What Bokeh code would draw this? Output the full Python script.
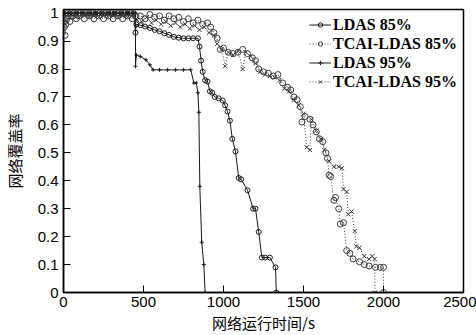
from bokeh.plotting import figure
from bokeh.models import Range1d, FixedTicker, Legend, LegendItem
from bokeh.embed import file_html
from bokeh.resources import INLINE

# ---------------- data ----------------
x_ticks = [0, 500, 1000, 1500, 2000, 2500]
y_ticks = [0, 0.1, 0.2, 0.3, 0.4, 0.5, 0.6, 0.7, 0.8, 0.9, 1]

series_names = ["LDAS 85%", "TCAI-LDAS 85%", "LDAS 95%", "TCAI-LDAS 95%"]

ldas85_x = [0, 20, 40, 60, 80, 100, 120, 140, 160, 180,
            200, 220, 240, 260, 280, 300, 320, 340, 360, 380,
            400, 420, 440,
            450, 455, 480, 510, 540, 570, 600, 630, 660, 690, 720, 750, 780, 810, 840,
            850, 860, 870, 885, 900, 915, 930, 945, 970, 995,
            1010, 1025, 1040, 1055, 1075, 1095, 1110, 1150, 1185, 1200,
            1220, 1240, 1260, 1290, 1325, 1330]
ldas85_y = [1.0, 1.0, 1.0, 1.0, 1.0, 1.0, 1.0, 1.0, 1.0, 1.0,
            1.0, 1.0, 1.0, 1.0, 1.0, 1.0, 1.0, 1.0, 1.0, 1.0,
            1.0, 1.0, 1.0,
            0.93, 0.96, 0.957, 0.952, 0.947, 0.94, 0.935, 0.928, 0.922, 0.915, 0.912, 0.91, 0.91, 0.91, 0.91,
            0.88, 0.83, 0.79, 0.76, 0.755, 0.72, 0.715, 0.70, 0.695, 0.687,
            0.67, 0.648, 0.615, 0.55, 0.505, 0.41, 0.405, 0.366, 0.30, 0.30,
            0.217, 0.125, 0.125, 0.125, 0.09, 0.0]

tcai85_x = [0, 5, 10, 15, 20, 30, 40, 60, 80, 100,
            130, 160, 190, 220, 250, 280, 310, 340, 370, 400,
            430, 450, 480, 510, 540, 570, 600, 630, 660, 690,
            720, 750, 780, 810, 840, 870, 900, 920, 940, 960,
            980, 1000, 1030, 1060, 1090, 1120, 1150, 1180, 1200, 1220,
            1250, 1280, 1310, 1340, 1370, 1400, 1420, 1440, 1460, 1480,
            1490, 1510, 1540, 1560, 1580, 1600, 1620, 1640, 1650, 1660,
            1670, 1690, 1700, 1720, 1730, 1750, 1770, 1790, 1810, 1850,
            1880, 1910, 1950, 1980, 2000, 2000]
tcai85_y = [0.97, 0.95, 0.92, 0.96, 0.98, 0.99, 0.97, 0.99, 0.98, 0.99,
            0.98, 0.99, 0.98, 0.99, 0.98, 0.99, 0.98, 0.99, 0.98, 0.99,
            0.98, 0.99, 0.99, 0.98, 0.995, 0.985, 0.99, 0.975, 0.99, 0.98,
            0.985, 0.97, 0.98, 0.965, 0.975, 0.96, 0.965, 0.95, 0.93, 0.91,
            0.87, 0.875, 0.86, 0.855, 0.86, 0.87, 0.855, 0.84, 0.83, 0.80,
            0.79, 0.785, 0.775, 0.78, 0.75, 0.735, 0.725, 0.70, 0.69, 0.665,
            0.61, 0.63, 0.62, 0.60, 0.575, 0.55, 0.54, 0.50, 0.48, 0.42,
            0.415, 0.33, 0.34, 0.30, 0.245, 0.25, 0.15, 0.14, 0.12, 0.11,
            0.10, 0.095, 0.09, 0.09, 0.09, 0.0]

ldas95_x = [0, 40, 80, 120, 160, 200, 240, 280, 320, 360,
            400, 440, 450, 450, 455, 480, 515, 540, 560, 600,
            650, 700, 750, 795, 815, 830, 840, 846, 852, 864,
            877, 885]
ldas95_y = [1.0, 1.0, 1.0, 1.0, 1.0, 1.0, 1.0, 1.0, 1.0, 1.0,
            1.0, 1.0, 1.0, 0.81, 0.85, 0.845, 0.833, 0.815, 0.797, 0.797,
            0.797, 0.797, 0.797, 0.797, 0.75, 0.75, 0.715, 0.645, 0.38, 0.18,
            0.10, 0.0]

tcai95_x = [0, 10, 20, 40, 70, 100, 130, 160, 190, 220,
            250, 280, 310, 340, 370, 400, 440, 460, 490, 520,
            550, 580, 610, 640, 670, 700, 730, 760, 790, 820,
            850, 880, 910, 940, 960, 990, 1010, 1030, 1060, 1090,
            1120, 1140, 1170, 1200, 1230, 1260, 1290, 1320, 1350, 1380,
            1410, 1440, 1470, 1500, 1520, 1540, 1550, 1580, 1610, 1630,
            1660, 1690, 1720, 1740, 1750, 1770, 1780, 1800, 1820, 1830,
            1850, 1880, 1910, 1930, 1945, 1947]
tcai95_y = [0.98, 0.96, 0.99, 0.985, 0.99, 0.985, 0.99, 0.985, 0.99, 0.985,
            0.99, 0.985, 0.99, 0.985, 0.99, 0.985, 0.99, 0.975, 0.97, 0.985,
            0.965, 0.975, 0.96, 0.97, 0.955, 0.965, 0.95, 0.96, 0.945, 0.955,
            0.94, 0.95, 0.93, 0.92, 0.89, 0.87, 0.81, 0.86, 0.85, 0.865,
            0.80, 0.86, 0.845, 0.82, 0.79, 0.78, 0.775, 0.77, 0.76, 0.73,
            0.72, 0.69, 0.67, 0.64, 0.52, 0.51, 0.62, 0.58, 0.55, 0.51,
            0.47, 0.45, 0.45, 0.445, 0.37, 0.36, 0.28, 0.29, 0.22, 0.165,
            0.16, 0.13, 0.12, 0.13, 0.12, 0.0]

# ---------------- figure ----------------
p = figure(width=476, height=335, output_backend="svg", toolbar_location=None,
           x_range=Range1d(0, 2500), y_range=Range1d(0, 1.013),
           min_border_left=62, min_border_right=13, min_border_top=9, min_border_bottom=41,
           background_fill_color="white", border_fill_color="white")
p.grid.visible = False
p.outline_line_color = "black"
p.outline_line_width = 1.5

solid_col = "#1a1a1a"
dot_col = "#3c3c3c"

items = []
r1 = p.line(ldas85_x, ldas85_y, line_color=solid_col, line_width=1)
m1 = p.scatter(ldas85_x, ldas85_y, marker="circle", size=5, fill_color=None,
               line_color=solid_col, line_width=1)
items.append(LegendItem(label=series_names[0], renderers=[r1, m1]))

r2 = p.line(tcai85_x, tcai85_y, line_color=dot_col, line_width=1, line_dash="1 2")
m2 = p.scatter(tcai85_x, tcai85_y, marker="circle", size=6, fill_color=None,
               line_color=dot_col, line_width=1)
items.append(LegendItem(label=series_names[1], renderers=[r2, m2]))

r3 = p.line(ldas95_x, ldas95_y, line_color=solid_col, line_width=1)
m3 = p.scatter(ldas95_x, ldas95_y, marker="cross", size=4,
               line_color=solid_col, line_width=1)
items.append(LegendItem(label=series_names[2], renderers=[r3, m3]))

r4 = p.line(tcai95_x, tcai95_y, line_color=dot_col, line_width=1, line_dash="1 2")
m4 = p.scatter(tcai95_x, tcai95_y, marker="x", size=6,
               line_color=dot_col, line_width=1)
items.append(LegendItem(label=series_names[3], renderers=[r4, m4]))

legend = Legend(items=items, location="top_right", margin=0, padding=6,
                spacing=0, label_height=19, glyph_height=11, glyph_width=22,
                label_standoff=2, border_line_alpha=0, background_fill_alpha=0,
                label_text_font="Liberation Serif", label_text_font_style="bold",
                label_text_font_size="16px", label_text_color="black")
p.add_layout(legend)

# axes
for ax in (p.xaxis[0], p.yaxis[0]):
    ax.axis_line_width = 1.5
    ax.axis_line_color = "black"
    ax.major_tick_in = 7
    ax.major_tick_out = 0
    ax.major_tick_line_width = 1
    ax.minor_tick_line_color = None
    ax.major_label_text_font = "Liberation Sans"
    ax.major_label_text_font_size = "15px"
    ax.major_label_text_color = "black"
    ax.axis_label_text_font = "Noto Sans CJK SC"
    ax.axis_label_text_font_size = "15px"
    ax.axis_label_text_font_style = "normal"
    ax.axis_label_text_color = "black"

p.xaxis[0].ticker = FixedTicker(ticks=x_ticks)
p.yaxis[0].ticker = FixedTicker(ticks=y_ticks)
p.yaxis[0].major_label_overrides = {0: "0", 1: "1"}
p.xaxis[0].axis_label = "网络运行时间/s"
p.yaxis[0].axis_label = "网络覆盖率"
p.xaxis[0].major_label_standoff = 4
p.xaxis[0].axis_label_standoff = 2
p.yaxis[0].major_label_standoff = 5
p.yaxis[0].axis_label_standoff = 10

open("out.html", "w").write(file_html(p, INLINE))
